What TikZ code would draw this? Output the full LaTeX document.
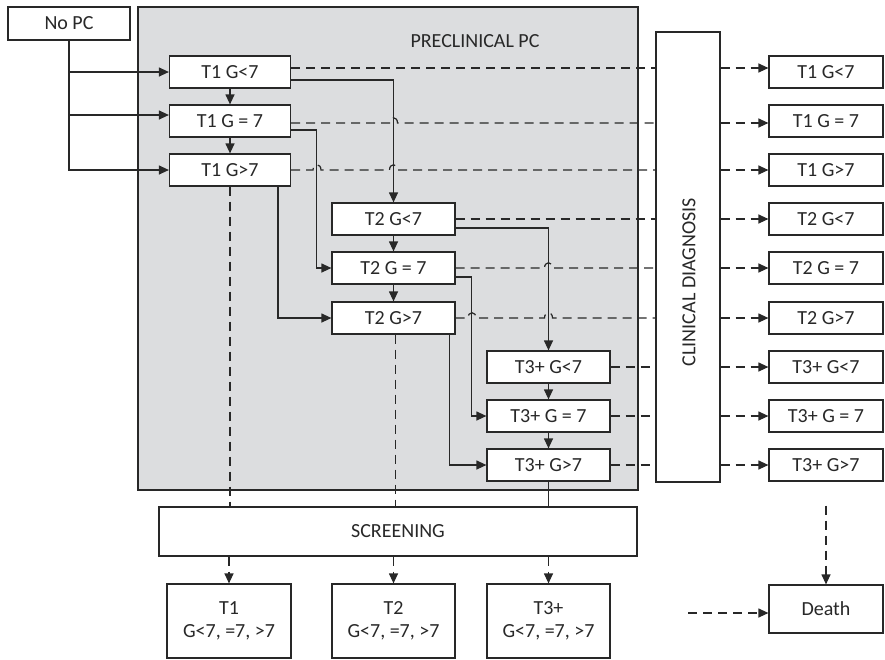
\documentclass[tikz,border=0pt]{standalone}
\usepackage{fontspec}
\setmainfont{Carlito}
\usetikzlibrary{arrows.meta,calc}
\definecolor{ln}{RGB}{40,40,40}
\definecolor{tx}{RGB}{40,40,40}
\definecolor{pcgray}{RGB}{220,221,223}
\tikzset{
 txt/.style={text=tx, font=\fontsize{20}{23}\selectfont},
 bx/.style={txt, draw=ln, line width=1.2pt, fill=white, inner sep=0pt, minimum height=32pt},
 sline/.style={draw=ln, line width=1.2pt},
 dline/.style={draw=ln, line width=1.2pt, dash pattern=on 9pt off 6pt},
 tip/.style={-{Triangle[length=10pt,width=9pt]}},
}
\begin{document}
\begin{tikzpicture}[x=1pt,y=-1pt]
\useasboundingbox (0,0) rectangle (885,659);
% preclinical area
\node[draw=ln, line width=1.2pt, fill=pcgray, minimum width=500pt, minimum height=483pt, inner sep=0pt] (pc) at (388,248.5) {};
\node[txt] (prec) at (475,41) {PRECLINICAL PC};
% nodes
\node[bx, minimum width=122pt, minimum height=33pt] (nopc) at (69,23.5) {No PC};
\node[bx, minimum width=121pt] (t1a) at (230,72) {T1 G<7};
\node[bx, minimum width=121pt] (t1b) at (230,121) {T1 G = 7};
\node[bx, minimum width=121pt] (t1c) at (230,170) {T1 G>7};
\node[bx, minimum width=123pt] (t2a) at (393.5,219) {T2 G<7};
\node[bx, minimum width=123pt] (t2b) at (393.5,268) {T2 G = 7};
\node[bx, minimum width=123pt] (t2c) at (393.5,318) {T2 G>7};
\node[bx, minimum width=123pt] (t3a) at (548.5,367) {T3+ G<7};
\node[bx, minimum width=123pt] (t3b) at (548.5,416) {T3+ G = 7};
\node[bx, minimum width=123pt] (t3c) at (548.5,465) {T3+ G>7};
\node[bx, minimum width=64pt, minimum height=450pt] (clin) at (688,257) {};
\node[txt, rotate=90] (clintext) at (689,282) {CLINICAL DIAGNOSIS};
\node[bx, minimum width=114pt] (r1) at (826,72) {T1 G<7};
\node[bx, minimum width=114pt] (r2) at (826,121) {T1 G = 7};
\node[bx, minimum width=114pt] (r3) at (826,170) {T1 G>7};
\node[bx, minimum width=114pt] (r4) at (826,219) {T2 G<7};
\node[bx, minimum width=114pt] (r5) at (826,268) {T2 G = 7};
\node[bx, minimum width=114pt] (r6) at (826,318) {T2 G>7};
\node[bx, minimum width=114pt] (r7) at (826,367) {T3+ G<7};
\node[bx, minimum width=114pt] (r8) at (826,416) {T3+ G = 7};
\node[bx, minimum width=114pt] (r9) at (826,465) {T3+ G>7};
\node[bx, minimum width=478pt, minimum height=49pt] (scr) at (398,531.5) {SCREENING};
\node[bx, minimum width=124pt, minimum height=74pt, align=center] (b1) at (229,621) {T1\\G<7, =7, >7};
\node[bx, minimum width=123pt, minimum height=74pt, align=center] (b2) at (393.5,621) {T2\\G<7, =7, >7};
\node[bx, minimum width=123pt, minimum height=74pt, align=center] (b3) at (548.5,621) {T3+\\G<7, =7, >7};
\node[bx, minimum width=114pt, minimum height=48pt] (death) at (826,609) {Death};
\coordinate (dstart) at (688,613);
% No PC entries
\draw[sline, tip] (nopc.south) |- (t1a.west);
\draw[sline, tip] (nopc.south) |- ([yshift=6pt]t1b.west);
\draw[sline, tip] (nopc.south) |- (t1c.west);
% column progressions
\draw[sline, tip] (t1a) -- (t1b);
\draw[sline, tip] (t1b) -- (t1c);
\draw[sline, tip] (t2a) -- (t2b);
\draw[sline, tip] (t2b) -- (t2c);
\draw[sline, tip] (t3a) -- (t3b);
\draw[sline, tip] (t3b) -- (t3c);
% stage progressions
\draw[sline, tip] ([yshift=-8pt]t1a.east) -| (t2a.north);
\draw[sline, tip] ([yshift=-9pt]t1b.east) -| ([xshift=-15pt]t2b.west) -- (t2b.west);
\draw[sline, tip] ([xshift=48pt]t1c.south) |- (t2c.west);
\draw[sline, tip] ([yshift=-9pt]t2a.east) -| (t3a.north);
\draw[sline, tip] ([yshift=-9pt]t2b.east) -| ([xshift=-15pt]t3b.west) -- (t3b.west);
\draw[sline, tip] ([xshift=56pt]t2c.south) |- (t3c.west);
% to screening
\draw[dline] (t1c.south) -- (t1c.south |- scr.north);
\draw[dline] ([xshift=2pt]t2c.south) -- ([xshift=2pt]t2c.south |- scr.north);
\draw[sline] (t3c.south) -- (t3c.south |- scr.north);
\draw[dline, tip] (b1.north |- scr.south) -- (b1.north);
\draw[dline, tip] (b2.north |- scr.south) -- (b2.north);
\draw[dline, tip] (b3.north |- scr.south) -- (b3.north);
% to clinical diagnosis
\draw[dline] ([yshift=4pt]t1a.east) -- ([yshift=4pt]t1a.east -| clin.west);
\draw[dline] ([yshift=-2pt]t1b.east) -- (389.5,123) .. controls (389.5,116) and (397.5,116) .. (397.5,123) -- ([yshift=-2pt]t1b.east -| clin.west);
\draw[dline] (t1c.east) -- (313,170) .. controls (313,163) and (321,163) .. (321,170) -- (389.5,170) .. controls (389.5,163) and (397.5,163) .. (397.5,170) -- (t1c.east -| clin.west);
\draw[dline] (t2a.east) -- (t2a.east -| clin.west);
\draw[dline] (t2b.east) -- (544.5,268) .. controls (544.5,261) and (552.5,261) .. (552.5,268) -- (t2b.east -| clin.west);
\draw[dline] (t2c.east) -- (468,318) .. controls (468,311) and (476,311) .. (476,318) -- (544.5,318) .. controls (544.5,311) and (552.5,311) .. (552.5,318) -- (t2c.east -| clin.west);
\draw[dline] (t3a.east) -- (t3a.east -| clin.west);
\draw[dline] (t3b.east) -- (t3b.east -| clin.west);
\draw[dline] (t3c.east) -- (t3c.east -| clin.west);
% from clinical diagnosis
\draw[dline, tip] ([yshift=4pt]r1.west -| clin.east) -- ([yshift=4pt]r1.west);
\draw[dline, tip] ([yshift=-2pt]r2.west -| clin.east) -- ([yshift=-2pt]r2.west);
\draw[dline, tip] (r3.west -| clin.east) -- (r3.west);
\draw[dline, tip] (r4.west -| clin.east) -- (r4.west);
\draw[dline, tip] (r5.west -| clin.east) -- (r5.west);
\draw[dline, tip] (r6.west -| clin.east) -- (r6.west);
\draw[dline, tip] (r7.west -| clin.east) -- (r7.west);
\draw[dline, tip] (r8.west -| clin.east) -- (r8.west);
\draw[dline, tip] (r9.west -| clin.east) -- (r9.west);
% death
\draw[dline, tip] ([yshift=-24pt]r9.south) -- (death.north);
\draw[dline, tip] (dstart) -- (death.west |- dstart);
\end{tikzpicture}
\end{document}
